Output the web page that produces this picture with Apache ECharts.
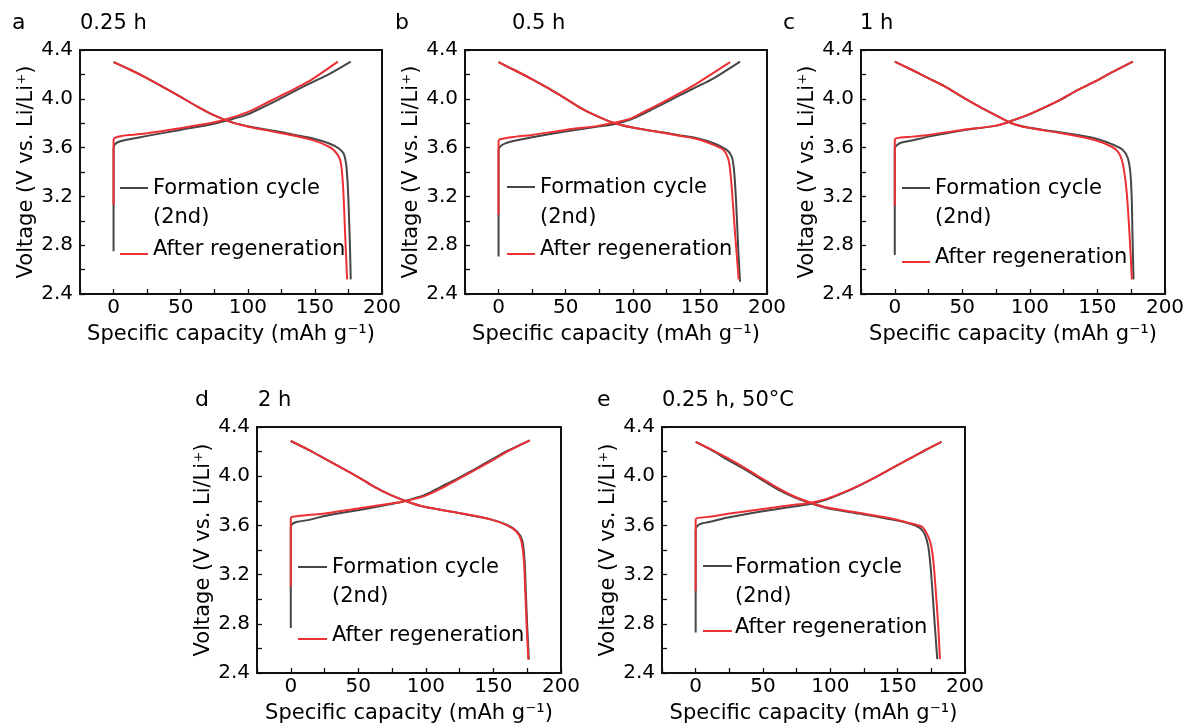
<!DOCTYPE html>
<html><head><meta charset="utf-8">
<script src="https://cdn.jsdelivr.net/npm/echarts@6/dist/echarts.min.js"></script>
<style>html,body{margin:0;padding:0;background:#fff}#c{width:1189px;height:727px}</style>
</head><body><div id="c"></div>
<script>
// ---------- text ----------
const panelLetters = ['a', 'b', 'c', 'd', 'e'];
const panelTitles = ['0.25 h', '0.5 h', '1 h', '2 h', '0.25 h, 50°C'];
const legendNames = ['Formation cycle', '(2nd)', 'After regeneration'];
const xAxisTitle = 'Specific capacity (mAh g\u207B\u00B9)';
const yAxisTitle = 'Voltage (V vs. Li/Li\u207A)';
const xTickLabels = [0, 50, 100, 150, 200];
const yTickLabels = [2.4, 2.8, 3.2, 3.6, 4.0, 4.4];

// ---------- data: [capacity (mAh/g), voltage (V)] ----------
// panel a : 0.25 h
const a_formCharge = [[0,2.75],[0,3.595],[1.2,3.63],[5,3.652],[12.8,3.67],[25.1,3.696],[49.6,3.745],[74.2,3.794],[86.5,3.827],[98.8,3.868],[111.1,3.93],[123.3,3.996],[135.6,4.067],[147.9,4.135],[160.2,4.20],[176.7,4.305]];
const a_formDis = [[0,4.30],[12.8,4.236],[25.1,4.168],[37.3,4.094],[49.6,4.018],[61.9,3.94],[74.2,3.868],[86.5,3.813],[98.8,3.778],[111.1,3.753],[123.3,3.731],[135.6,3.704],[147.9,3.677],[160.2,3.636],[167.6,3.595],[171.3,3.554],[173.2,3.47],[174.4,3.31],[175.4,3.04],[176.2,2.76],[176.7,2.52]];
const a_regenCharge = [[0,3.131],[0,3.663],[1,3.68],[5,3.693],[12.8,3.704],[25.1,3.718],[49.6,3.759],[74.2,3.805],[86.5,3.84],[98.8,3.887],[111.1,3.95],[123.3,4.018],[135.6,4.086],[147.9,4.16],[167.1,4.305]];
const a_regenDis = [[0,4.30],[12.8,4.236],[25.1,4.168],[37.3,4.094],[49.6,4.018],[61.9,3.94],[74.2,3.868],[86.5,3.813],[98.8,3.775],[111.1,3.748],[123.3,3.722],[135.6,3.695],[147.9,3.663],[160.2,3.609],[165.1,3.568],[168.8,3.50],[170.5,3.363],[171.5,3.17],[172.5,2.90],[174,2.52]];
// panel b : 0.5 h
const b_formCharge = [[0,2.708],[0,3.587],[1.7,3.614],[5,3.635],[12.8,3.658],[25.1,3.685],[49.6,3.731],[74.2,3.772],[86.5,3.794],[98.8,3.832],[111.1,3.895],[123.3,3.963],[135.6,4.032],[147.9,4.10],[160.2,4.168],[179.9,4.305]];
const b_formDis = [[0,4.30],[12.8,4.23],[25.1,4.16],[37.3,4.085],[49.6,4.004],[61.9,3.92],[74.2,3.854],[86.5,3.80],[98.8,3.767],[111.1,3.743],[123.3,3.723],[135.6,3.70],[147.9,3.677],[160.2,3.636],[170,3.581],[173.7,3.527],[175.4,3.418],[176.9,3.172],[178.6,2.763],[179.9,2.50]];
const b_regenCharge = [[0,3.05],[0,3.65],[1.2,3.669],[12.8,3.69],[25.1,3.704],[49.6,3.745],[74.2,3.778],[86.5,3.805],[98.8,3.84],[111.1,3.909],[123.3,3.977],[135.6,4.05],[147.9,4.127],[172.5,4.30]];
const b_regenDis = [[0,4.30],[12.8,4.23],[25.1,4.16],[37.3,4.085],[49.6,4.004],[61.9,3.92],[74.2,3.854],[86.5,3.80],[98.8,3.767],[111.1,3.743],[123.3,3.72],[135.6,3.695],[147.9,3.67],[160.2,3.622],[167.6,3.581],[171.3,3.50],[173,3.363],[174.4,3.172],[176.2,2.90],[178.9,2.52]];
// panel c : 1 h
const c_formCharge = [[0,2.72],[0,3.595],[1.7,3.622],[5,3.642],[12.8,3.658],[25.1,3.69],[49.6,3.74],[74.2,3.778],[81.6,3.80],[86.5,3.82],[98.8,3.868],[111.1,3.93],[123.3,3.996],[135.6,4.073],[147.9,4.14],[160.2,4.214],[176.2,4.305]];
const c_formDis = [[0,4.305],[12.8,4.236],[25.1,4.168],[37.3,4.10],[49.6,4.018],[61.9,3.94],[74.2,3.868],[86.5,3.80],[98.8,3.764],[123.3,3.723],[147.9,3.677],[160.2,3.63],[168.8,3.581],[172.5,3.513],[174.4,3.39],[175.4,3.172],[175.9,2.90],[176.7,2.52]];
const c_regenCharge = [[0,3.123],[0,3.663],[1.2,3.677],[12.8,3.69],[25.1,3.704],[49.6,3.745],[74.2,3.778],[81.6,3.80],[86.5,3.82],[98.8,3.87],[111.1,3.932],[123.3,3.998],[135.6,4.074],[147.9,4.14],[160.2,4.214],[176.2,4.305]];
const c_regenDis = [[0,4.305],[12.8,4.236],[25.1,4.168],[37.3,4.10],[49.6,4.018],[61.9,3.94],[74.2,3.868],[86.5,3.80],[98.8,3.762],[123.3,3.718],[147.9,3.663],[160.2,3.609],[165.1,3.568],[168,3.50],[170,3.39],[171.7,3.227],[173.7,2.90],[175.5,2.52]];
// panel d : 2 h
const d_formCharge = [[0,2.765],[0,3.59],[1.7,3.616],[5,3.63],[12.8,3.643],[25.1,3.676],[49.6,3.724],[74.2,3.773],[81.6,3.79],[98.8,3.846],[111.1,3.914],[123.3,3.98],[135.6,4.054],[147.9,4.13],[160.2,4.205],[176.9,4.292]];
const d_formDis = [[0,4.286],[12.8,4.216],[25.1,4.143],[37.3,4.07],[49.6,3.995],[61.9,3.914],[74.2,3.846],[86.5,3.792],[98.8,3.751],[123.3,3.703],[147.9,3.649],[160.2,3.603],[167.6,3.549],[171.3,3.48],[173,3.32],[174,3.05],[175,2.78],[176.2,2.51]];
const d_regenCharge = [[0,3.103],[0,3.657],[1.2,3.67],[12.8,3.684],[25.1,3.697],[49.6,3.738],[74.2,3.778],[81.6,3.79],[98.8,3.838],[111.1,3.90],[123.3,3.973],[135.6,4.046],[147.9,4.12],[160.2,4.20],[176.9,4.292]];
const d_regenDis = [[0,4.286],[12.8,4.216],[25.1,4.143],[37.3,4.07],[49.6,3.995],[61.9,3.914],[74.2,3.846],[86.5,3.792],[98.8,3.751],[123.3,3.703],[147.9,3.649],[160.2,3.60],[167,3.55],[170.5,3.48],[172.5,3.32],[173.6,3.05],[174.6,2.78],[175.8,2.51]];
// panel e : 0.25 h, 50 °C
const e_formCharge = [[0,2.73],[0,3.565],[1.5,3.60],[5,3.617],[11.8,3.632],[24.1,3.664],[48.6,3.713],[73.2,3.753],[85.5,3.775],[97.8,3.812],[110.1,3.866],[122.3,3.928],[134.6,3.996],[146.9,4.071],[159.2,4.144],[171.5,4.217],[182.6,4.279]];
const e_formDis = [[0,4.279],[11.8,4.211],[24.1,4.13],[36.4,4.055],[48.6,3.974],[60.9,3.893],[73.2,3.829],[85.5,3.78],[97.8,3.74],[122.3,3.694],[146.9,3.645],[159.2,3.613],[166.6,3.578],[170.3,3.524],[172.7,3.43],[174.4,3.268],[175.9,3.052],[177.6,2.783],[179.4,2.513]];
const e_regenCharge = [[0,3.066],[0,3.645],[1,3.659],[11.8,3.672],[24.1,3.694],[48.6,3.732],[73.2,3.767],[85.5,3.785],[97.8,3.818],[110.1,3.87],[122.3,3.93],[134.6,3.998],[146.9,4.072],[159.2,4.145],[171.5,4.218],[182.6,4.279]];
const e_regenDis = [[0,4.279],[11.8,4.216],[24.1,4.144],[36.4,4.068],[48.6,3.985],[60.9,3.905],[73.2,3.835],[85.5,3.785],[97.8,3.745],[122.3,3.70],[146.9,3.652],[159.2,3.618],[167.8,3.59],[171.5,3.537],[174.4,3.456],[176.4,3.322],[178.4,3.052],[180.1,2.783],[181.4,2.513]];

const panelData = [
  [a_formCharge, a_formDis, a_regenCharge, a_regenDis],
  [b_formCharge, b_formDis, b_regenCharge, b_regenDis],
  [c_formCharge, c_formDis, c_regenCharge, c_regenDis],
  [d_formCharge, d_formDis, d_regenCharge, d_regenDis],
  [e_formCharge, e_formDis, e_regenCharge, e_regenDis]
];

// ---------- layout (positions / styles) ----------
const FONT = 'DejaVu Sans';
const COL_FORM = '#464646';
const COL_REGEN = '#ec3034';
const grids = [
  {left: 80,  top: 50,  width: 302, height: 244},
  {left: 465, top: 50,  width: 302, height: 244},
  {left: 861, top: 50,  width: 304, height: 244},
  {left: 257, top: 427, width: 304, height: 246},
  {left: 662, top: 427, width: 303, height: 246}
];
const letterPos = [[12, 25], [395, 25], [783, 25], [195, 402], [597, 402]];
const titlePos = [[80, 25], [512, 25], [860, 25], [258, 402], [662, 402]];
// legend: [lineX0, lineX1, blackLineY, textX, y1, y2, y3, redLineY]
const legendPos = [
  [120, 148, 188, 153, 189, 218, 250, 254],
  [507, 535, 187, 540, 188, 218, 250, 254],
  [902, 930, 188, 935, 189, 218, 258, 262],
  [298, 327, 567, 332, 568, 597, 636, 639],
  [703, 732, 566, 735, 568, 597, 628, 631]
];

const option = {
  animation: false,
  backgroundColor: '#fff',
  textStyle: {fontFamily: FONT},
  grid: [], xAxis: [], yAxis: [], series: [], graphic: []
};

grids.forEach((g, i) => {
  option.grid.push(Object.assign({show: true, borderColor: '#111', borderWidth: 2, backgroundColor: 'transparent'}, g));
  option.xAxis.push({
    type: 'value', gridIndex: i, min: -25, max: 200, interval: 25,
    name: xAxisTitle, nameLocation: 'middle', nameGap: 30, nameMoveOverlap: false,
    nameTextStyle: {fontFamily: FONT, fontSize: 21, color: '#000'},
    axisLine: {show: true, onZero: false, lineStyle: {color: '#111', width: 2}},
    axisTick: {show: true, inside: true, length: 5, lineStyle: {color: '#111', width: 1.3}},
    axisLabel: {
      show: true, margin: 4, fontFamily: FONT, fontSize: 20, color: '#000',
      showMinLabel: true, showMaxLabel: true,
      formatter: v => xTickLabels.indexOf(Math.round(v)) >= 0 ? String(Math.round(v)) : ''
    },
    splitLine: {show: false}
  });
  option.yAxis.push({
    type: 'value', gridIndex: i, min: 2.4, max: 4.4, interval: 0.2,
    name: yAxisTitle, nameLocation: 'middle', nameGap: 43, nameMoveOverlap: false,
    nameTextStyle: {fontFamily: FONT, fontSize: 21, color: '#000'},
    axisLine: {show: true, onZero: false, lineStyle: {color: '#111', width: 2}},
    axisTick: {show: true, inside: true, length: 5, lineStyle: {color: '#111', width: 1.3}},
    axisLabel: {
      show: true, margin: 7, fontFamily: FONT, fontSize: 20, color: '#000',
      showMinLabel: true, showMaxLabel: true,
      formatter: v => {
        const r = Math.round(v * 10) / 10;
        return yTickLabels.some(t => Math.abs(t - r) < 1e-6) ? r.toFixed(1) : '';
      }
    },
    splitLine: {show: false}
  });
  const d = panelData[i];
  const mk = (data, color, z) => ({
    type: 'line', xAxisIndex: i, yAxisIndex: i, data: data,
    showSymbol: false, symbol: 'none', smooth: 0.3, z: z,
    lineStyle: {color: color, width: 2}, silent: true
  });
  option.series.push(mk(d[0], COL_FORM, 2), mk(d[1], COL_FORM, 2), mk(d[2], COL_REGEN, 3), mk(d[3], COL_REGEN, 3));

  // panel letter & title
  option.graphic.push({type: 'text', left: letterPos[i][0], top: letterPos[i][1] - 13,
    style: {text: panelLetters[i], font: '22px "' + FONT + '"', fill: '#000'}});
  option.graphic.push({type: 'text', left: titlePos[i][0], top: titlePos[i][1] - 12,
    style: {text: panelTitles[i], font: '21px "' + FONT + '"', fill: '#000'}});

  // legend
  const L = legendPos[i];
  option.graphic.push({type: 'line', shape: {x1: L[0], y1: L[2], x2: L[1], y2: L[2]}, style: {stroke: COL_FORM, lineWidth: 2}});
  option.graphic.push({type: 'line', shape: {x1: L[0], y1: L[7], x2: L[1], y2: L[7]}, style: {stroke: COL_REGEN, lineWidth: 2}});
  legendNames.forEach((t, k) => {
    option.graphic.push({type: 'text', x: L[3], y: L[4 + k],
      style: {text: t, font: '21px "' + FONT + '"', fill: '#000', textVerticalAlign: 'middle', verticalAlign: 'middle'}});
  });
});

const chart = echarts.init(document.getElementById('c'), null, {renderer: 'canvas'});
chart.setOption(option);
</script>
</body></html>
